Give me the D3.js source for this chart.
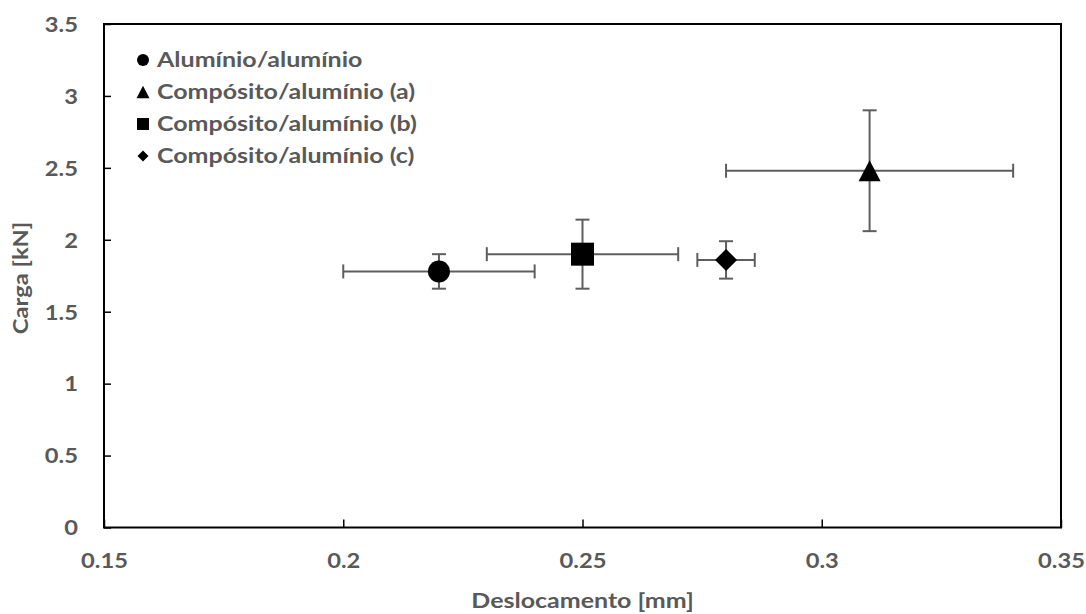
<!DOCTYPE html>
<html>
<head>
<meta charset="utf-8">
<script src="https://cdn.jsdelivr.net/npm/d3@7"></script>
<style>
  html, body { margin: 0; padding: 0; background: #fff; }
  svg { display: block; }
  text { font-family: Lato, "Open Sans", sans-serif; font-weight: bold; fill: #595959; }
</style>
</head>
<body>
<svg id="chart" width="1086" height="614"></svg>
<script>
// ---- data ----
const seriesNames = ["Alumínio/alumínio", "Compósito/alumínio (a)", "Compósito/alumínio (b)", "Compósito/alumínio (c)"];
const markerShapes = ["circle", "triangle", "square", "diamond"];
const dispValues = [0.22, 0.31, 0.25, 0.28];      // Deslocamento [mm]
const dispErrors = [0.02, 0.03, 0.02, 0.006];
const loadValues = [1.78, 2.48, 1.90, 1.86];      // Carga [kN]
const loadErrors = [0.12, 0.42, 0.24, 0.13];
const xTickValues = [0.15, 0.2, 0.25, 0.3, 0.35];
const xTickLabels = ["0.15", "0.2", "0.25", "0.3", "0.35"];
const yTickValues = [0, 0.5, 1, 1.5, 2, 2.5, 3, 3.5];
const yTickLabels = ["0", "0.5", "1", "1.5", "2", "2.5", "3", "3.5"];
const xTitle = "Deslocamento [mm]";
const yTitle = "Carga [kN]";

// ---- layout ----
const svg = d3.select("#chart");
const plot = { left: 104, top: 24, right: 1061, bottom: 527.5 };
const FS = 21;            // font size
const SX_TICK = 1.13, SX_LEG = 1.19, SX_XT = 1.19, SX_YT = 1.13;   // horizontal text stretch
const textColor = "#595959";
const errColor = "#5e5e5e";

const x = d3.scaleLinear().domain([0.15, 0.35]).range([plot.left, plot.right]);
const y = d3.scaleLinear().domain([0, 3.5]).range([plot.bottom, plot.top]);

// marker path generator (bbox centred)
function markerPath(shape, s) {
  const h = s / 2;
  const p = d3.path();
  if (shape === "circle") { p.arc(0, 0, h, 0, 2 * Math.PI); }
  else if (shape === "square") { p.rect(-h, -h, s, s); }
  else if (shape === "diamond") { p.moveTo(0, -h); p.lineTo(h, 0); p.lineTo(0, h); p.lineTo(-h, 0); p.closePath(); }
  else if (shape === "triangle") { const th = s * 0.95 / 2; p.moveTo(0, -th); p.lineTo(h, th); p.lineTo(-h, th); p.closePath(); }
  return p.toString();
}

// ---- axes ----
const xAxis = d3.axisBottom(x).tickValues(xTickValues).tickSizeInner(-8).tickSizeOuter(0)
  .tickFormat((d, i) => xTickLabels[i]);
const yAxis = d3.axisLeft(y).tickValues(yTickValues).tickSizeInner(-7).tickSizeOuter(0)
  .tickFormat((d, i) => yTickLabels[i]);

const gx = svg.append("g").attr("transform", `translate(0,${plot.bottom})`).call(xAxis);
const gy = svg.append("g").attr("transform", `translate(${plot.left},0)`).call(yAxis);
[gx, gy].forEach(g => {
  g.select(".domain").remove();
  g.selectAll(".tick line").attr("stroke", "#000").attr("stroke-width", 1.5);
  g.selectAll(".tick text").attr("font-size", FS).attr("fill", textColor)
    .style("font-family", "Lato, 'Open Sans', sans-serif").style("font-weight", "bold");
});
gx.selectAll(".tick text").attr("y", 0).attr("dy", 0)
  .attr("transform", `translate(0,40.5) scale(${SX_TICK},1)`);
gy.selectAll(".tick text").attr("x", 0).attr("dy", "0.35em")
  .attr("transform", `translate(-26,0) scale(${SX_TICK},1)`);

// plot frame
svg.append("rect")
  .attr("x", plot.left).attr("y", plot.top)
  .attr("width", plot.right - plot.left).attr("height", plot.bottom - plot.top)
  .attr("fill", "none").attr("stroke", "#000").attr("stroke-width", 2);

// ---- error bars ----
const cap = 7;
const data = seriesNames.map((n, i) => ({
  name: n, shape: markerShapes[i],
  x: dispValues[i], xe: dispErrors[i], y: loadValues[i], ye: loadErrors[i]
}));
const eb = svg.append("g").attr("stroke", errColor).attr("stroke-width", 2).attr("fill", "none");
data.forEach(d => {
  const cx = x(d.x), cy = y(d.y);
  const x0 = x(d.x - d.xe), x1 = x(d.x + d.xe);
  const y0 = y(d.y - d.ye), y1 = y(d.y + d.ye);
  eb.append("line").attr("x1", x0).attr("x2", x1).attr("y1", cy).attr("y2", cy);
  eb.append("line").attr("x1", x0).attr("x2", x0).attr("y1", cy - cap).attr("y2", cy + cap);
  eb.append("line").attr("x1", x1).attr("x2", x1).attr("y1", cy - cap).attr("y2", cy + cap);
  eb.append("line").attr("x1", cx).attr("x2", cx).attr("y1", y0).attr("y2", y1);
  eb.append("line").attr("x1", cx - cap).attr("x2", cx + cap).attr("y1", y0).attr("y2", y0);
  eb.append("line").attr("x1", cx - cap).attr("x2", cx + cap).attr("y1", y1).attr("y2", y1);
});

// ---- markers ----
const bigSize = { circle: 22, triangle: 22, square: 23, diamond: 22 };
svg.append("g").selectAll("path").data(data).join("path")
  .attr("transform", d => `translate(${x(d.x)},${y(d.y)})`)
  .attr("d", d => markerPath(d.shape, bigSize[d.shape]))
  .attr("fill", "#000");

// ---- legend ----
const smallSize = { circle: 12, triangle: 13, square: 12, diamond: 11 };
const lg = svg.append("g");
data.forEach((d, i) => {
  const by = 66.5 + i * 32;
  lg.append("path").attr("transform", `translate(143,${by - 6.5})`)
    .attr("d", markerPath(d.shape, smallSize[d.shape])).attr("fill", "#000");
  lg.append("text").attr("transform", `translate(157,${by}) scale(${SX_LEG},1)`)
    .attr("font-size", FS).text(d.name);
});

// ---- axis titles ----
svg.append("text").attr("text-anchor", "middle")
  .attr("transform", `translate(${(plot.left + plot.right) / 2},608) scale(${SX_XT},1)`)
  .attr("font-size", FS).text(xTitle);
svg.append("text").attr("text-anchor", "middle")
  .attr("transform", `translate(28,278) rotate(-90) scale(${SX_YT},1)`)
  .attr("font-size", FS).text(yTitle);
</script>
</body>
</html>
